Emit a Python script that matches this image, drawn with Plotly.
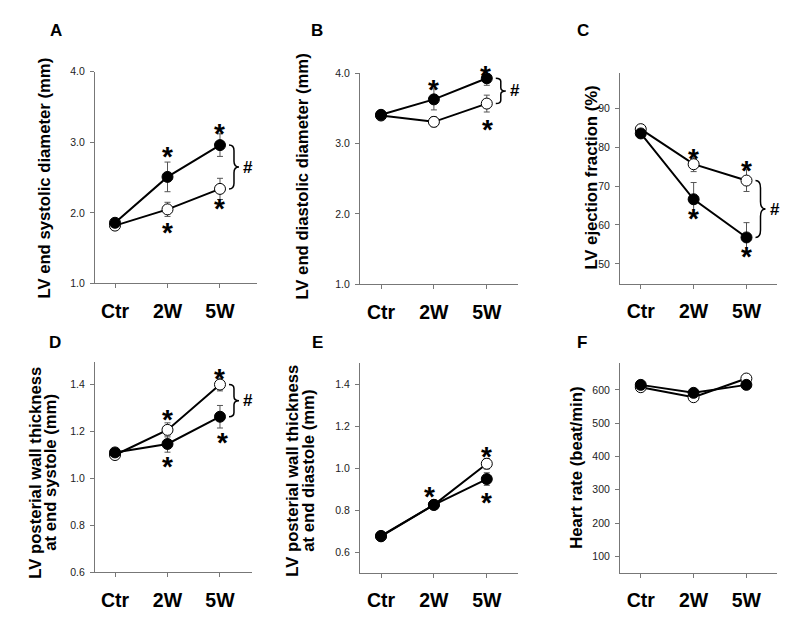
import plotly.graph_objects as go

# ---------------- data ----------------
cats = ["Ctr", "2W", "5W"]
xpos = [0, 1, 2]

# A: LV end systolic diameter (mm)
a_black = [1.86, 2.51, 2.96]
a_black_err = [0.03, 0.21, 0.16]
a_white = [1.82, 2.05, 2.34]
a_white_err = [0.03, 0.10, 0.15]

# B: LV end diastolic diameter (mm)
b_black = [3.41, 3.63, 3.93]
b_black_err = [0.05, 0.15, 0.10]
b_white = [3.40, 3.31, 3.57]
b_white_err = [0.05, 0.07, 0.12]

# C: LV ejection fraction (%)
c_black = [83.5, 66.6, 56.8]
c_black_err = [0.6, 4.3, 3.8]
c_white = [84.6, 75.6, 71.4]
c_white_err = [0.6, 1.9, 2.8]

# D: LV posterial wall thickness at end systole (mm)
d_black = [1.111, 1.147, 1.263]
d_black_err = [0.015, 0.035, 0.048]
d_white = [1.100, 1.207, 1.400]
d_white_err = [0.015, 0.030, 0.027]

# E: LV posterial wall thickness at end diastole (mm)
e_black = [0.677, 0.825, 0.948]
e_black_err = [0.02, 0.012, 0.03]
e_white = [0.675, 0.825, 1.021]
e_white_err = [0.02, 0.012, 0.025]

# F: Heart rate (beat/min)
f_black = [615, 591, 615]
f_black_err = [8, 8, 8]
f_white = [608, 578, 634]
f_white_err = [8, 8, 8]

W, H = 800, 617
FONT = "Arial, Liberation Sans, sans-serif"


def dx(a, b):
    return [a / W, b / W]


def dy(top, bottom):
    return [1 - bottom / H, 1 - top / H]


panels = [
    dict(letter="A", black=a_black, berr=a_black_err, white=a_white, werr=a_white_err,
         xpx=(95, 257), ypx=(67, 283), xr=[-0.381, 2.705], yr=[1.0, 4.0],
         tv=[1.0, 2.0, 3.0, 4.0], fmt=".1f",
         title=["LV end systolic diameter (mm)"], tx=[45], ty=176,
         lpos=(55.5, 24.5),
         stars=[("b", 1, 27, 0), ("b", 2, 19, 0), ("w", 1, -16, 0), ("w", 2, -13, 0)],
         brace=("b", "w")),
    dict(letter="B", black=b_black, berr=b_black_err, white=b_white, werr=b_white_err,
         xpx=(360, 518), ypx=(68.7, 283.7), xr=[-0.397, 2.59], yr=[1.0, 4.0],
         tv=[1.0, 2.0, 3.0, 4.0], fmt=".1f",
         title=["LV end diastolic diameter (mm)"], tx=[303], ty=174,
         lpos=(316.7, 25),
         stars=[("b", 1, 17, 0), ("b", 2, 10, -1), ("w", 2, -19, 1)],
         brace=("b", "w")),
    dict(letter="C", black=c_black, berr=c_black_err, white=c_white, werr=c_white_err,
         xpx=(620, 777), ypx=(68, 283.3), xr=[-0.393, 2.577], yr=[44.9, 99.1],
         tv=[50, 60, 70, 80, 90], fmt="d",
         title=["LV ejection fraction (%)"], tx=[592], ty=175,
         lpos=(583, 25),
         stars=[("w", 1, 13, 0), ("w", 2, 17, 0), ("b", 1, -12, 0), ("b", 2, -12, 0)],
         brace=("w", "b")),
    dict(letter="D", black=d_black, berr=d_black_err, white=d_white, werr=d_white_err,
         xpx=(95, 252), ypx=(363.3, 577.7), xr=[-0.381, 2.61], yr=[0.6, 1.495],
         tv=[0.6, 0.8, 1.0, 1.2, 1.4], fmt=".1f",
         title=["LV posterial wall thickness", "at end systole (mm)"], tx=[36, 51], ty=476,
         lpos=(55, 342.7),
         stars=[("w", 1, 17, 0), ("w", 2, 13, 0), ("b", 1, -16, 0), ("b", 2, -19, 3)],
         brace=("w", "b")),
    dict(letter="E", black=e_black, berr=e_black_err, white=e_white, werr=e_white_err,
         xpx=(360, 518), ypx=(364.3, 578.3), xr=[-0.397, 2.59], yr=[0.5, 1.5],
         tv=[0.6, 0.8, 1.0, 1.2, 1.4], fmt=".1f",
         title=["LV posterial wall thickness", "at end diastole (mm)"], tx=[293, 309], ty=474,
         lpos=(317, 342.7),
         stars=[("b", 1, 15, -4), ("w", 2, 14, 0), ("b", 2, -16, 0)],
         brace=None),
    dict(letter="F", black=f_black, berr=f_black_err, white=f_white, werr=f_white_err,
         xpx=(620, 777), ypx=(364.3, 578.3), xr=[-0.393, 2.58], yr=[50, 680],
         tv=[100, 200, 300, 400, 500, 600], fmt="d",
         title=["Heart rate (beat/min)"], tx=[577], ty=471,
         lpos=(581.7, 342.7),
         stars=[],
         brace=None),
]

fig = go.Figure()
annotations = []
shapes = []
STAR_C = 7  # glyph centre sits above the annotation box centre by this many px

for i, p in enumerate(panels):
    n = i + 1
    xa = "x" if n == 1 else f"x{n}"
    ya = "y" if n == 1 else f"y{n}"
    xkey = "xaxis" if n == 1 else f"xaxis{n}"
    ykey = "yaxis" if n == 1 else f"yaxis{n}"

    for series, err, fill in ((p["white"], p["werr"], "white"), (p["black"], p["berr"], "black")):
        fig.add_trace(go.Scatter(
            x=xpos, y=series, xaxis=xa, yaxis=ya, mode="lines+markers",
            line=dict(color="black", width=2),
            marker=dict(size=11, color=fill, line=dict(color="black", width=1)),
            error_y=dict(type="data", array=err, visible=True, color="#555555",
                         thickness=1, width=3),
            showlegend=False, hoverinfo="skip"))

    fig.layout[xkey] = dict(
        domain=dx(*p["xpx"]), range=p["xr"], anchor=ya,
        tickvals=xpos, ticktext=cats, showline=True, linecolor="#777777", linewidth=1,
        ticks="outside", ticklen=4, tickcolor="#777777", showgrid=False, zeroline=False,
        tickfont=dict(family=FONT, size=19.5, color="black", weight="bold"),
        ticklabelstandoff=6, fixedrange=True)
    fig.layout[ykey] = dict(
        domain=dy(*p["ypx"]), range=p["yr"], anchor=xa,
        tickvals=p["tv"], tickformat=p["fmt"], showline=True, linecolor="#777777",
        linewidth=1, ticks="outside", ticklen=4, tickcolor="#777777",
        showgrid=False, zeroline=False,
        tickfont=dict(family=FONT, size=10.5, color="#222222"),
        ticklabelstandoff=3, fixedrange=True)

    # panel letter
    annotations.append(dict(
        text=p["letter"], x=p["lpos"][0] / W, y=1 - p["lpos"][1] / H,
        xref="paper", yref="paper", xanchor="center", yanchor="middle",
        showarrow=False, font=dict(family=FONT, size=17, color="black", weight="bold")))

    # y titles
    for line, tx in zip(p["title"], p["tx"]):
        annotations.append(dict(
            text=line, x=tx / W, y=1 - p["ty"] / H, xref="paper", yref="paper",
            xanchor="center", yanchor="middle", textangle=-90, showarrow=False,
            font=dict(family=FONT, size=16.7, color="black", weight="bold")))

    # significance asterisks
    for s, idx, off, xs in p["stars"]:
        val = p["black"][idx] if s == "b" else p["white"][idx]
        annotations.append(dict(
            text="*", x=xpos[idx], y=val, xref=xa, yref=ya,
            xanchor="center", yanchor="middle", showarrow=False,
            yshift=off - STAR_C, xshift=xs,
            font=dict(family=FONT, size=28, color="black", weight="bold")))

    # curly brace with '#'
    if p["brace"]:
        top_s, bot_s = p["brace"]
        ytop = (p["black"] if top_s == "b" else p["white"])[2]
        ybot = (p["black"] if bot_s == "b" else p["white"])[2]
        r = (ytop - ybot) * 0.13
        ym = (ytop + ybot) / 2
        x0, xm, x1 = 9, 14, 19
        path = (f"M{x0},{ytop} Q{xm},{ytop} {xm},{ytop - r} L{xm},{ym + r} "
                f"Q{xm},{ym} {x1},{ym} Q{xm},{ym} {xm},{ym - r} "
                f"L{xm},{ybot + r} Q{xm},{ybot} {x0},{ybot}")
        shapes.append(dict(type="path", path=path, xref=xa, yref=ya,
                           xsizemode="pixel", xanchor=xpos[2],
                           line=dict(color="black", width=1.5)))
        annotations.append(dict(
            text="#", x=xpos[2], y=ym, xref=xa, yref=ya, xshift=28,
            xanchor="center", yanchor="middle", showarrow=False,
            font=dict(family=FONT, size=17, color="black", weight="bold")))

fig.update_layout(
    width=W, height=H, margin=dict(l=0, r=0, t=0, b=0),
    paper_bgcolor="white", plot_bgcolor="white",
    annotations=annotations, shapes=shapes, showlegend=False)

fig.write_html("out.html", config={"displayModeBar": False},
               post_script="document.body.style.margin='0';document.body.style.overflow='hidden';")
